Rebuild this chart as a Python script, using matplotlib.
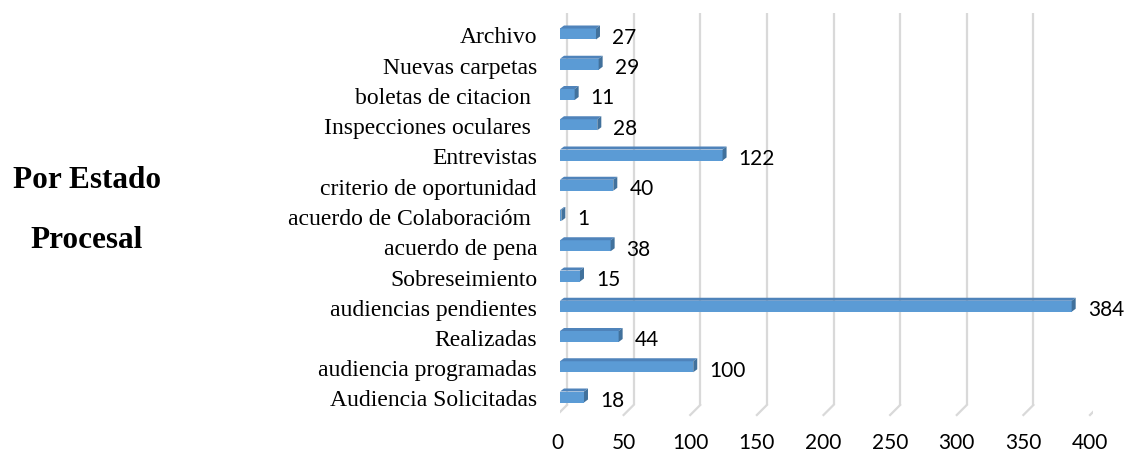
import matplotlib
matplotlib.use("Agg")
import matplotlib.pyplot as plt
import matplotlib.transforms as mtransforms
from matplotlib.patches import Polygon

# data (top to bottom as in the chart)
categories = [
    "Archivo",
    "Nuevas carpetas",
    "boletas de citacion ",
    "Inspecciones oculares ",
    "Entrevistas",
    "criterio de oportunidad",
    "acuerdo de Colaboracióm ",
    "acuerdo de pena",
    "Sobreseimiento",
    "audiencias pendientes",
    "Realizadas",
    "audiencia programadas",
    "Audiencia Solicitadas",
]
values = [27, 29, 11, 28, 122, 40, 1, 38, 15, 384, 44, 100, 18]
x_ticks = [0, 50, 100, 150, 200, 250, 300, 350, 400]

W, H = 1129, 457
fig = plt.figure(figsize=(W / 100, H / 100), dpi=100)

# axes placed in pixel terms: x=0 at 560px, x=400 at 1093px
left_px, right_px = 560, 1093
top_px, bottom_px = 10, 420
ax = fig.add_axes([left_px / W, 1 - bottom_px / H,
                   (right_px - left_px) / W, (bottom_px - top_px) / H])
row_px = 30.25
first_px = 397  # center of bottom row

def py(pix):
    return (first_px - pix) / row_px

n = len(categories)
ys = list(range(n))[::-1]  # top category gets highest y
ax.set_xlim(0, 400)
ax.set_ylim(py(bottom_px), py(top_px))
ax.axis("off")

def px_off(dx, dy):
    return ax.transData + mtransforms.ScaledTranslation(dx / 100, dy / 100, fig.dpi_scale_trans)

grid_col = "#D9D9D9"
for v in x_ticks:
    ax.plot([v, v], [py(405), py(13)], color=grid_col, lw=1.6,
            transform=px_off(7, 0), zorder=1, solid_capstyle="butt")
    # slanted floor segment
    p0 = ax.transData.transform((v, py(405)))
    p1 = ax.transData.transform((v, py(415)))
    inv = ax.transData.inverted()
    a = inv.transform((p0[0] + 7, p0[1]))
    b = inv.transform((p1[0] - 3, p1[1]))
    ax.plot([a[0], b[0]], [a[1], b[1]], color=grid_col, lw=1.6, zorder=1)
    ax.text(v, py(443), str(v), transform=px_off(-3, 0), ha="center", va="center",
            fontsize=15, family="Lato", color="#000000")

# 3D-looking bars
bar_h = 11 / row_px
ux = (right_px - left_px) / 400.0
dx = 4 / ux
dy = 3 / row_px
front = "#5B9BD5"
side = "#41719C"
topc = "#4F83BA"
ax.barh(ys, values, height=bar_h, left=0, color=front, zorder=3, edgecolor="none")
for y, v in zip(ys, values):
    y0, y1 = y - bar_h / 2, y + bar_h / 2
    ax.add_patch(Polygon([(0, y1), (v, y1), (v + dx, y1 + dy), (dx, y1 + dy)],
                         closed=True, facecolor=topc, edgecolor="none", zorder=3))
    ax.add_patch(Polygon([(v, y0), (v + dx, y0 + dy), (v + dx, y1 + dy), (v, y1)],
                         closed=True, facecolor=side, edgecolor="none", zorder=4))
    ax.text(v, y, str(v), transform=px_off(16, -4), ha="left", va="center",
            fontsize=15, family="Lato", color="#000000", zorder=5)

# category labels
for y, c in zip(ys, categories):
    ax.text(0, y, c, transform=px_off(-23, -4), ha="right", va="center",
            fontsize=17, family="Liberation Serif", color="#000000")

# side title
fig.text(87 / W, 1 - 180 / H, "Por Estado", ha="center", va="center",
         fontsize=22.5, fontweight="bold", family="Liberation Serif")
fig.text(87 / W, 1 - 241 / H, "Procesal", ha="center", va="center",
         fontsize=22.5, fontweight="bold", family="Liberation Serif")

fig.savefig("out.png", dpi=100)
